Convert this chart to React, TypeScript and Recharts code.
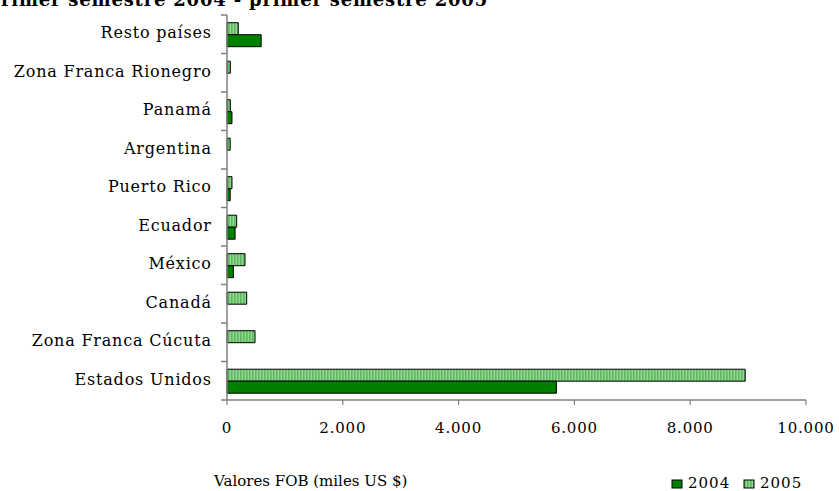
import React from 'react';
import { BarChart, Bar, XAxis, YAxis } from 'recharts';

const categories = [
  'Resto países',
  'Zona Franca Rionegro',
  'Panamá',
  'Argentina',
  'Puerto Rico',
  'Ecuador',
  'México',
  'Canadá',
  'Zona Franca Cúcuta',
  'Estados Unidos',
];
const values2004 = [590, 0, 86, 0, 55, 140, 110, 0, 0, 5690];
const values2005 = [195, 58, 58, 55, 86, 167, 311, 340, 484, 8950];
const xTicks = [0, 2000, 4000, 6000, 8000, 10000];

const data = categories.map((name, i) => ({ name, v2004: values2004[i], v2005: values2005[i] }));

const W = 839;
const H = 491;
const MARGIN = { top: 15, right: 33, bottom: 61, left: 0 };
const X_AXIS_H = 30;
const Y_AXIS_W = 227;
const PLOT_H = H - MARGIN.top - MARGIN.bottom - X_AXIS_H;
const BAND = PLOT_H / categories.length;
const TICK_SIZE = 6;
const TICK_MARGIN = 10;
const FONT = '"DejaVu Serif", serif';
const AXIS_COLOR = '#808080';
const C2004 = '#008000';

const fmt = (v: number) => v.toLocaleString('de-DE');

const YTick = (props: any) => {
  const { x, y, payload, index } = props;
  const axisX = x + TICK_SIZE + TICK_MARGIN;
  const last = index === categories.length - 1;
  return (
    <g>
      <line x1={axisX - TICK_SIZE} x2={axisX} y1={y - BAND / 2} y2={y - BAND / 2} stroke={AXIS_COLOR} strokeWidth={1.5} />
      {last && (
        <line x1={axisX - TICK_SIZE} x2={axisX} y1={y + BAND / 2} y2={y + BAND / 2} stroke={AXIS_COLOR} strokeWidth={1.5} />
      )}
      <text
        x={x + 0.8}
        y={y - 1.5}
        dy="0.355em"
        textAnchor="end"
        fill="#000"
        fontSize={16}
        letterSpacing={0.8}
        fontFamily={FONT}
      >
        {payload.value}
      </text>
    </g>
  );
};

const XTick = (props: any) => {
  const { x, y, payload } = props;
  return (
    <text x={x} y={y} dy="0.71em" textAnchor="middle" fill="#000" fontSize={15} letterSpacing={0.8} fontFamily={FONT}>
      {fmt(payload.value)}
    </text>
  );
};

export default function App() {
  return (
    <div style={{ position: 'absolute', left: 0, top: 0, width: W, height: H, background: '#fff' }}>
      <svg width={0} height={0} style={{ position: 'absolute' }}>
        <defs>
          <pattern id="stripes2005" width={3} height={4} patternUnits="userSpaceOnUse">
            <rect width={3} height={4} fill="#96d796" />
            <rect width={1.6} height={4} fill="#5cb85c" />
          </pattern>
        </defs>
      </svg>
      <BarChart
        width={W}
        height={H}
        data={data}
        layout="vertical"
        margin={MARGIN}
        barCategoryGap="20%"
        barGap={0}
      >
        <XAxis
          type="number"
          domain={[0, 10000]}
          ticks={xTicks}
          height={X_AXIS_H}
          stroke={AXIS_COLOR}
          axisLine={{ stroke: AXIS_COLOR, strokeWidth: 1.5 }}
          tickLine={{ stroke: AXIS_COLOR, strokeWidth: 1.2 }}
          tickSize={5}
          tickMargin={17}
          tick={<XTick />}
          interval={0}
        />
        <YAxis
          type="category"
          dataKey="name"
          width={Y_AXIS_W}
          axisLine={{ stroke: AXIS_COLOR, strokeWidth: 1.5 }}
          tickLine={false}
          tickSize={TICK_SIZE}
          tickMargin={TICK_MARGIN}
          tick={<YTick />}
          interval={0}
        />
        <Bar dataKey="v2005" fill="url(#stripes2005)" stroke="#000" strokeWidth={1} isAnimationActive={false} />
        <Bar dataKey="v2004" fill={C2004} stroke="#000" strokeWidth={1} isAnimationActive={false} />
      </BarChart>
      <svg
        width={W}
        height={H}
        style={{ position: 'absolute', left: 0, top: 0, pointerEvents: 'none' }}
      >
        <text x={488} y={6} textAnchor="end" fontSize={18} letterSpacing={0.8} fontWeight="bold" fontFamily={FONT} fill="#000">
          primer semestre 2004 - primer semestre 2005
        </text>
        <text x={214} y={486} fontSize={15} fontFamily={FONT} fill="#000">
          Valores FOB (miles US $)
        </text>
        <rect x={672} y={480} width={10} height={8} fill={C2004} stroke="#000" strokeWidth={1} />
        <text x={688} y={488} fontSize={15} letterSpacing={1} fontFamily={FONT} fill="#000">2004</text>
        <rect x={744} y={480} width={10} height={8} fill="url(#stripes2005)" stroke="#000" strokeWidth={1} />
        <text x={760} y={488} fontSize={15} letterSpacing={1} fontFamily={FONT} fill="#000">2005</text>
      </svg>
    </div>
  );
}
